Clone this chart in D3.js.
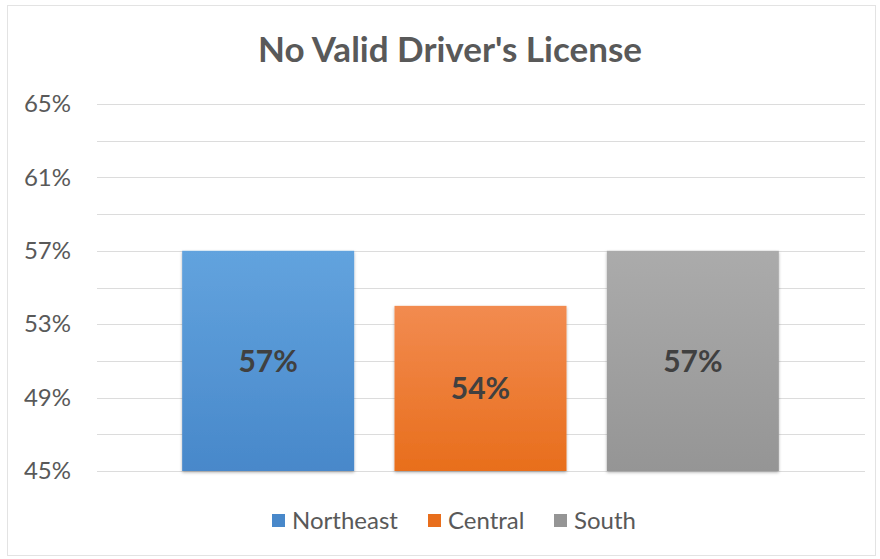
<!DOCTYPE html>
<html>
<head>
<meta charset="utf-8">
<script src="https://cdn.jsdelivr.net/npm/d3@7"></script>
<style>
  body { margin: 0; background: #fff; }
  #chart { width: 880px; height: 559px; }
  text { font-family: Lato, "Open Sans", sans-serif; }
</style>
</head>
<body>
<div id="chart"></div>
<script>
// data
const regions = ["Northeast", "Central", "South"];
const shares = [57, 54, 57];
const yTicks = [45, 49, 53, 57, 61, 65];
const yGrid = [45, 47, 49, 51, 53, 55, 57, 59, 61, 63, 65];
const colors = [
    ["#62a3de", "#4888ca"],
    ["#f28b50", "#e86e1c"],
    ["#ababab", "#959595"]
];

const width = 880, height = 559;

const svg = d3.select("#chart").append("svg")
    .attr("width", width)
    .attr("height", height);

// frame
svg.append("rect")
    .attr("x", 7.5).attr("y", 5.5)
    .attr("width", width - 12).attr("height", height - 9)
    .attr("fill", "#fff")
    .attr("stroke", "#e3e3e3");

const defs = svg.append("defs");
colors.forEach(function (c, i) {
    const g = defs.append("linearGradient")
        .attr("id", "grad" + i)
        .attr("x1", 0).attr("y1", 0).attr("x2", 0).attr("y2", 1);
    g.append("stop").attr("offset", "0%").attr("stop-color", c[0]);
    g.append("stop").attr("offset", "100%").attr("stop-color", c[1]);
});
const shadow = defs.append("filter").attr("id", "shadow")
    .attr("x", "-10%").attr("y", "-10%").attr("width", "120%").attr("height", "120%");
shadow.append("feDropShadow")
    .attr("dx", 0).attr("dy", 1.5).attr("stdDeviation", 1.5)
    .attr("flood-color", "#000").attr("flood-opacity", 0.3);

const y = d3.scaleLinear().domain([45, 65]).range([471, 104]);
const x = d3.scaleBand().domain(regions).range([162, 799]).paddingInner(0.19).paddingOuter(0.095);

// title
svg.append("text")
    .attr("x", 450).attr("y", 62)
    .attr("text-anchor", "middle")
    .style("font-size", "35px")
    .style("font-weight", "bold")
    .style("fill", "#595959")
    .text("No Valid Driver's License");

// gridlines
svg.append("g").selectAll("line")
    .data(yGrid)
    .enter().append("line")
    .attr("x1", 97).attr("x2", 865)
    .attr("y1", d => Math.round(y(d)) + 0.5)
    .attr("y2", d => Math.round(y(d)) + 0.5)
    .attr("stroke", "#dcdcdc")
    .attr("stroke-width", 1);

// y axis labels
const yAxis = d3.axisLeft(y).tickValues(yTicks).tickSize(0).tickPadding(0)
    .tickFormat(d => d + "%");
const ag = svg.append("g").attr("transform", "translate(71,0)").call(yAxis);
ag.select(".domain").remove();
ag.selectAll("text")
    .style("font-family", "Lato, 'Open Sans', sans-serif")
    .style("font-size", "24px")
    .style("fill", "#595959");

// bars
const bars = svg.append("g").selectAll("g")
    .data(regions)
    .enter().append("g");

bars.append("rect")
    .attr("x", d => x(d))
    .attr("y", (d, i) => y(shares[i]))
    .attr("width", x.bandwidth())
    .attr("height", (d, i) => y(45) - y(shares[i]))
    .attr("fill", (d, i) => "url(#grad" + i + ")")
    .attr("filter", "url(#shadow)");

bars.append("text")
    .attr("x", d => x(d) + x.bandwidth() / 2)
    .attr("y", (d, i) => (y(shares[i]) + y(45)) / 2)
    .attr("dy", ".36em")
    .attr("text-anchor", "middle")
    .style("font-size", "30px")
    .style("font-weight", "bold")
    .style("fill", "#404040")
    .text((d, i) => shares[i] + "%");

// legend
const legendX = [272, 428, 554];
const legend = svg.append("g").selectAll("g")
    .data(regions)
    .enter().append("g")
    .attr("transform", (d, i) => "translate(" + legendX[i] + ",521)");

legend.append("rect")
    .attr("x", 0).attr("y", -7)
    .attr("width", 13).attr("height", 13)
    .attr("fill", (d, i) => colors[i][1]);

legend.append("text")
    .attr("x", 20).attr("y", 0)
    .attr("dy", ".35em")
    .style("font-size", "24px")
    .style("fill", "#595959")
    .text(d => d);
</script>
</body>
</html>
